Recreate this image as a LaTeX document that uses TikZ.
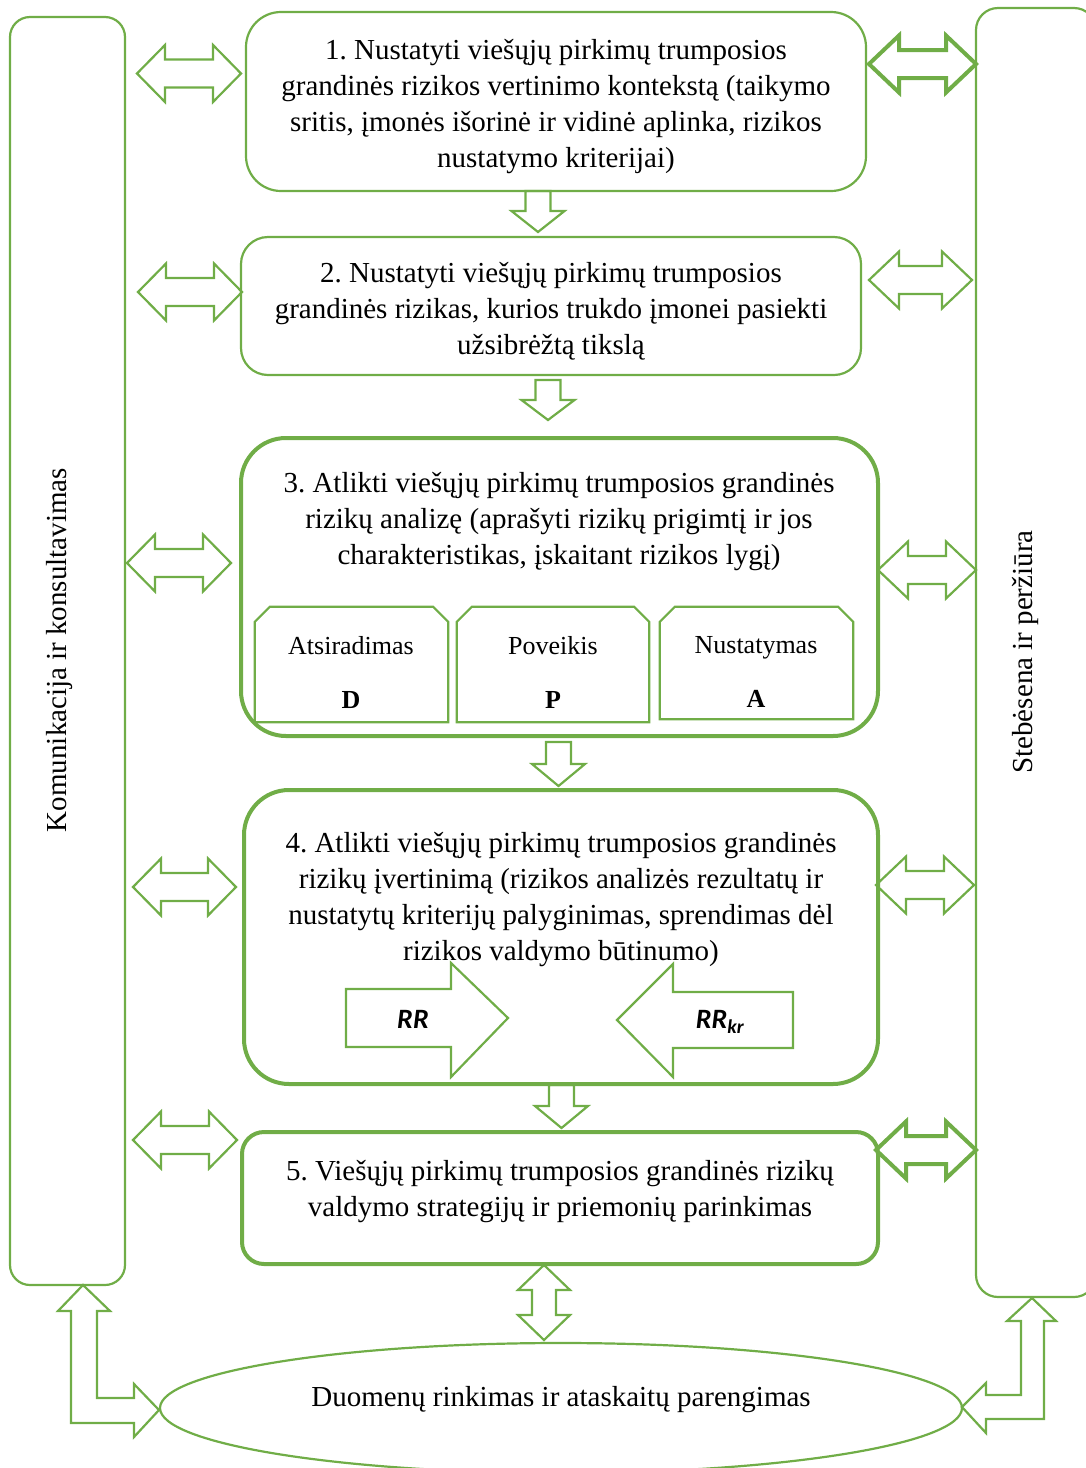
\documentclass[tikz,border=0pt]{standalone}
\usepackage{fontspec}
\setmainfont{Liberation Serif}
\newfontfamily\calibrifont{Carlito}
\usetikzlibrary{shapes.geometric,calc}
\definecolor{leaf}{HTML}{70AD47}
\frenchspacing

\tikzset{
  thinline/.style={draw=leaf, line width=2.2pt},
  thickline/.style={draw=leaf, line width=4pt},
  panel/.style={rectangle, inner sep=0pt},
  bodytext/.style={font=\fontsize{29}{36}\selectfont, align=center, inner sep=0pt},
  smalltext/.style={font=\fontsize{26}{32}\selectfont, align=center, inner sep=0pt},
  rrtext/.style={font=\calibrifont\bfseries\itshape\fontsize{28}{32}\selectfont, inner sep=0pt},
}

% vertical block arrow pointing down: [style]{x centre}{top}{head base}{tip}
\newcommand{\downblock}[5][thinline]{%
  \draw[#1] ({#2-12.5},#3) -- ({#2+12.5},#3) -- ({#2+12.5},#4) -- ({#2+26.5},#4)
    -- (#2,#5) -- ({#2-26.5},#4) -- ({#2-12.5},#4) -- cycle;}

% horizontal double block arrow: [style]{left tip}{right tip}{y centre}{head length}
\newcommand{\twinarrow}[5][thinline]{%
  \draw[#1] (#2,#4) -- ({#2+#5},{#4-28.5}) -- ({#2+#5},{#4-14}) -- ({#3-#5},{#4-14})
    -- ({#3-#5},{#4-28.5}) -- (#3,#4) -- ({#3-#5},{#4+28.5}) -- ({#3-#5},{#4+14})
    -- ({#2+#5},{#4+14}) -- ({#2+#5},{#4+28.5}) -- cycle;}

% box with cut upper corners, drawn round a named node
\newcommand{\cutbox}[1]{%
  \draw[thinline] (#1.south west) -- ($(#1.north west)+(0,15)$) -- ($(#1.north west)+(15,0)$)
    -- ($(#1.north east)+(-15,0)$) -- ($(#1.north east)+(0,15)$) -- (#1.south east) -- cycle;}

\begin{document}
\begin{tikzpicture}[x=1pt, y=-1pt]
\useasboundingbox (0,0) rectangle (1085,1468);

% side panels
\node[panel, thinline, rounded corners=20pt, minimum width=115pt, minimum height=1268pt] (kom) at (67.5,651) {};
\node[bodytext, rotate=90] (komtxt) at (60,650) {Komunikacija ir konsultavimas};
\node[panel, thinline, rounded corners=22pt, minimum width=120pt, minimum height=1289pt] (steb) at (1036,652.5) {};
\node[bodytext, rotate=90] (stebtxt) at (1025,652) {Stebėsena ir peržiūra};

% process steps
\node[panel, thinline, rounded corners=35pt, minimum width=620pt, minimum height=179pt] (s1) at (556,101.5) {};
\node[bodytext] (s1txt) at (556,107) {1. Nustatyti viešųjų pirkimų trumposios\\grandinės rizikos vertinimo kontekstą (taikymo\\sritis, įmonės išorinė ir vidinė aplinka, rizikos\\nustatymo kriterijai)};

\node[panel, thinline, rounded corners=27pt, minimum width=620pt, minimum height=138pt] (s2) at (551,306) {};
\node[bodytext] (s2txt) at (551,311) {2. Nustatyti viešųjų pirkimų trumposios\\grandinės rizikas, kurios trukdo įmonei pasiekti\\užsibrėžtą tikslą};

\node[panel, thickline, rounded corners=45pt, minimum width=637pt, minimum height=298pt] (s3) at (559.5,587) {};
\node[bodytext] (s3txt) at (559,522) {3. Atlikti viešųjų pirkimų trumposios grandinės\\rizikų analizę (aprašyti rizikų prigimtį ir jos\\charakteristikas, įskaitant rizikos lygį)};

\node[panel, minimum width=193pt, minimum height=115pt] (bd) at (351.5,664.5) {};
\node[panel, minimum width=192pt, minimum height=115pt] (bp) at (553,664.5) {};
\node[panel, minimum width=193pt, minimum height=112pt] (ba) at (756.5,663) {};
\cutbox{bd}
\cutbox{bp}
\cutbox{ba}
\node[smalltext] (bdtxt) at (351,672) {Atsiradimas\\[22pt]\textbf{D}};
\node[smalltext] (bptxt) at (553,672) {Poveikis\\[22pt]\textbf{P}};
\node[smalltext] (batxt) at (756,672) {Nustatymas\\[22pt]\textbf{A}};

\node[panel, thickline, rounded corners=45pt, minimum width=634pt, minimum height=294pt] (s4) at (561,937) {};
\node[bodytext] (s4txt) at (561,900) {4. Atlikti viešųjų pirkimų trumposios grandinės\\rizikų įvertinimą (rizikos analizės rezultatų ir\\nustatytų kriterijų palyginimas, sprendimas dėl\\rizikos valdymo būtinumo)};

% compared quantities
\draw[thinline] (346,989) -- (451,989) -- (451,963) -- (508,1018) -- (451,1077) -- (451,1047) -- (346,1047) -- cycle;
\node[rrtext] (rr) at (413,1019) {RR};
\draw[thinline] (617,1020) -- (673,964) -- (673,992) -- (793,992) -- (793,1048) -- (673,1048) -- (673,1077) -- cycle;
\node[rrtext] (rrkr) at (720,1022) {RR\textsubscript{kr}};

\node[panel, thickline, rounded corners=22pt, minimum width=636pt, minimum height=132pt] (s5) at (560,1198) {};
\node[bodytext] (s5txt) at (560,1192) {5. Viešųjų pirkimų trumposios grandinės rizikų\\valdymo strategijų ir priemonių parinkimas};

\node[ellipse, thinline, minimum width=802pt, minimum height=130pt, inner sep=0pt] (data) at (561,1408) {};
\node[bodytext] (datatxt) at (561,1400) {Duomenų rinkimas ir ataskaitų parengimas};

% flow between steps
\downblock{538}{191}{211}{232}
\downblock{548}{380}{400}{420}
\downblock{558.5}{742}{764}{786}
\downblock{561.5}{1085}{1106}{1128}
\draw[thinline] (544,1265) -- (570,1290) -- (556,1290) -- (556,1315) -- (570,1315) -- (544,1340)
  -- (518,1315) -- (532,1315) -- (532,1290) -- (518,1290) -- cycle;

% links to the side panels
\twinarrow{137}{241}{73.5}{28}
\twinarrow{138}{242}{292}{28}
\twinarrow{127}{231}{563}{28}
\twinarrow{133}{236}{887}{28}
\twinarrow{133}{237}{1140}{28}
\twinarrow[thickline]{869}{976}{64}{30}
\twinarrow{869}{972}{280}{30}
\twinarrow{878}{976}{570}{30}
\twinarrow{876}{974}{885}{30}
\twinarrow[thickline]{876}{976}{1150}{30}

% bent arrows to the data collection step
\draw[thinline] (83,1285) -- (110,1311) -- (97,1311) -- (97,1398) -- (134,1398) -- (134,1384)
  -- (159,1410) -- (134,1437) -- (134,1423) -- (71,1423) -- (71,1311) -- (58,1311) -- cycle;
\draw[thinline] (1032,1298) -- (1056,1321) -- (1044,1321) -- (1044,1419) -- (986,1419) -- (986,1433)
  -- (962,1407) -- (986,1383) -- (986,1395) -- (1021,1395) -- (1021,1321) -- (1007,1321) -- cycle;
\end{tikzpicture}
\end{document}
